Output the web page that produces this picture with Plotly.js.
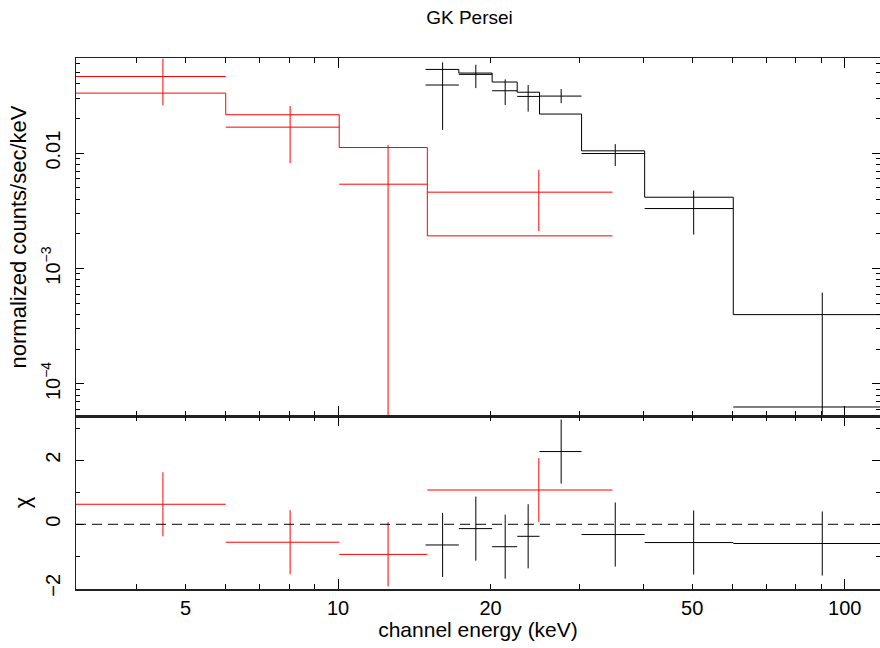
<!DOCTYPE html>
<html><head><meta charset="utf-8">
<script src="https://cdn.plot.ly/plotly-3.0.1.min.js"></script>
<style>html,body{margin:0;padding:0;background:#fff}#chart{width:880px;height:648px}</style>
</head><body><div id="chart"></div>
<script>
// ---- Red spectrum (instrument 1) ----
const redBinLo   = [3.0, 6.0, 10.05, 15.0];
const redBinHi   = [6.0, 10.05, 15.0, 34.8];
const redE       = [4.51, 8.04, 12.55, 24.9];
const redRate    = [0.0461, 0.01679, 0.00538, 0.00459];
const redRateHi  = [0.0657, 0.0256, 0.01174, 0.00716];
const redRateLo  = [0.0259, 0.00819, 1e-6, 0.00211];
const redModel   = [0.0331, 0.0215, 0.01118, 0.00192];
const redChi     = [0.625, -0.56, -0.94, 1.07];
const redChiErr  = [1, 1, 1, 1];

// ---- Black spectrum (instrument 2) ----
const blackBinLo  = [14.88, 17.31, 20.14, 22.57, 24.98, 30.24, 40.28, 60.26];
const blackBinHi  = [17.31, 20.14, 22.57, 24.98, 30.24, 40.28, 60.26, 150];
const blackE      = [16.08, 18.7, 21.37, 23.72, 27.56, 35.24, 50.33, 90.3];
const blackRate   = [0.0389, 0.0481, 0.0347, 0.0310, 0.0312, 0.00992, 0.00331, 6.32e-5];
const blackRateHi = [0.0611, 0.0583, 0.0435, 0.0389, 0.0359, 0.01197, 0.00474, 6.19e-4];
const blackRateLo = [0.0159, 0.0366, 0.0261, 0.0229, 0.0271, 0.00772, 0.00197, 1e-6];
const blackModel  = [0.0531, 0.0494, 0.0413, 0.0337, 0.0218, 0.01047, 0.00415, 3.99e-4];
const blackChi    = [-0.646, -0.135, -0.70, -0.375, 2.27, -0.32, -0.57, -0.60];
const blackChiErr = [1, 1, 1, 1, 1, 1, 1, 1];

// ---- Tick labels ----
const xTickVals  = [5, 10, 20, 50, 100];
const xTickText  = ['5', '10', '20', '50', '100'];
const xMinorVals = [3, 4, 6, 7, 8, 9, 30, 40, 60, 70, 80, 90];
const xDecadeVals = [10, 100];
const yTopTickVals = [1e-4, 1e-3, 1e-2];
const yTopTickText = ['10<sup>\u22124</sup>', '10<sup>\u22123</sup>', '0.01'];
const yTopMinorVals = [6e-5, 7e-5, 8e-5, 9e-5, 2e-4, 3e-4, 4e-4, 5e-4, 6e-4, 7e-4, 8e-4, 9e-4,
                       2e-3, 3e-3, 4e-3, 5e-3, 6e-3, 7e-3, 8e-3, 9e-3, 2e-2, 3e-2, 4e-2, 5e-2, 6e-2];
const yBotTickVals = [-2, 0, 2];
const yBotTickText = ['\u22122', '0', '2'];
const yBotMinorVals = [-1, 1, 3];

const RED = '#ff0000', BLACK = '#000000', FRAME = '#222222';
const FONT = 'Liberation Sans, Arial, Helvetica, sans-serif';
const xRange = [Math.log10(3.038), Math.log10(117.4)];

function sub(a, b) { return a.map((v, i) => v - b[i]); }

function stepTrace(lo, hi, model, color) {
  return {
    x: lo.concat([hi[hi.length - 1]]),
    y: model.concat([model[model.length - 1]]),
    mode: 'lines', line: {shape: 'hv', color: color, width: 1},
    xaxis: 'x', yaxis: 'y', hoverinfo: 'skip', showlegend: false
  };
}
function dataTrace(lo, hi, e, y, yhi, ylo, color) {
  return {
    x: e, y: y, mode: 'markers', marker: {size: 0, opacity: 0, color: color},
    error_x: {type: 'data', symmetric: false, array: sub(hi, e), arrayminus: sub(e, lo),
              width: 0, thickness: 1, color: color},
    error_y: {type: 'data', symmetric: false, array: sub(yhi, y), arrayminus: sub(y, ylo),
              width: 0, thickness: 1, color: color},
    xaxis: 'x', yaxis: 'y', showlegend: false
  };
}
function chiTrace(lo, hi, e, chi, err, color) {
  return {
    x: e, y: chi, mode: 'markers', marker: {size: 0, opacity: 0, color: color},
    error_x: {type: 'data', symmetric: false, array: sub(hi, e), arrayminus: sub(e, lo),
              width: 0, thickness: 1, color: color},
    error_y: {type: 'data', symmetric: true, array: err, width: 0, thickness: 1, color: color},
    xaxis: 'x2', yaxis: 'y2', showlegend: false
  };
}

const traces = [
  stepTrace(redBinLo, redBinHi, redModel, RED),
  dataTrace(redBinLo, redBinHi, redE, redRate, redRateHi, redRateLo, RED),
  stepTrace(blackBinLo, blackBinHi, blackModel, BLACK),
  dataTrace(blackBinLo, blackBinHi, blackE, blackRate, blackRateHi, blackRateLo, BLACK),
  chiTrace(redBinLo, redBinHi, redE, redChi, redChiErr, RED),
  chiTrace(blackBinLo, blackBinHi, blackE, blackChi, blackChiErr, BLACK),
  {x: [], y: [], xaxis: 'x3', yaxis: 'y', mode: 'markers', showlegend: false, hoverinfo: 'skip'},
  {x: [], y: [], xaxis: 'x4', yaxis: 'y2', mode: 'markers', showlegend: false, hoverinfo: 'skip'}
];

const split = 173 / 531;
const axBase = {
  showgrid: false, zeroline: false, showline: true, mirror: 'ticks',
  linecolor: FRAME, linewidth: 1.5, ticks: 'inside', tickcolor: BLACK, tickwidth: 1,
  tickfont: {family: FONT, size: 20, color: BLACK}
};
const decadeAx = {
  type: 'log', range: xRange, tickmode: 'array', tickvals: xDecadeVals,
  ticks: 'inside', ticklen: 10, tickcolor: BLACK, tickwidth: 1, showticklabels: false,
  showgrid: false, zeroline: false, showline: false, mirror: 'ticks'
};

const layout = {
  width: 880, height: 648,
  margin: {l: 76, r: 0, t: 58, b: 59},
  paper_bgcolor: '#fff', plot_bgcolor: '#fff',
  font: {family: FONT, color: BLACK},
  showlegend: false,
  title: {text: 'GK Persei', font: {family: FONT, size: 19, color: BLACK},
          xref: 'container', x: 469.5 / 880, xanchor: 'center',
          yref: 'container', y: 1 - 17.5 / 648, yanchor: 'middle'},
  xaxis: Object.assign({}, axBase, {
    type: 'log', range: xRange, domain: [0, 1], anchor: 'y',
    tickmode: 'array', tickvals: xTickVals, ticktext: xTickText, ticklen: 5,
    showticklabels: false,
    minor: {tickmode: 'array', tickvals: xMinorVals, ticks: 'inside', ticklen: 5, tickcolor: BLACK, tickwidth: 1, showgrid: false}
  }),
  yaxis: Object.assign({}, axBase, {
    type: 'log', domain: [split, 1], anchor: 'x',
    range: [Math.log10(5.28e-5), Math.log10(0.0667)],
    tickmode: 'array', tickvals: yTopTickVals, ticktext: yTopTickText, ticklen: 8, tickangle: -90,
    ticklabelstandoff: 7,
    minor: {tickmode: 'array', tickvals: yTopMinorVals, ticks: 'inside', ticklen: 4, tickcolor: BLACK, tickwidth: 1, showgrid: false},
    title: {text: 'normalized counts/sec/keV', font: {family: FONT, size: 22, color: BLACK}, standoff: 5}
  }),
  xaxis2: Object.assign({}, axBase, {
    type: 'log', range: xRange, domain: [0, 1], anchor: 'y2',
    tickmode: 'array', tickvals: xTickVals, ticktext: xTickText, ticklen: 5,
    minor: {tickmode: 'array', tickvals: xMinorVals, ticks: 'inside', ticklen: 5, tickcolor: BLACK, tickwidth: 1, showgrid: false},
    title: {text: 'channel energy (keV)', font: {family: FONT, size: 21, color: BLACK}, standoff: 4}
  }),
  yaxis2: Object.assign({}, axBase, {
    domain: [0, split], anchor: 'x2', range: [-2.02, 3.38],
    tickmode: 'array', tickvals: yBotTickVals, ticktext: yBotTickText, ticklen: 8, tickangle: -90,
    ticklabelstandoff: 7,
    minor: {tickmode: 'array', tickvals: yBotMinorVals, ticks: 'inside', ticklen: 4, tickcolor: BLACK, tickwidth: 1, showgrid: false},
    title: {text: '\u03c7', font: {family: FONT, size: 22, color: BLACK}, standoff: 5}
  }),
  xaxis3: Object.assign({}, decadeAx, {overlaying: 'x', anchor: 'y'}),
  xaxis4: Object.assign({}, decadeAx, {overlaying: 'x2', anchor: 'y2'}),
  shapes: [{type: 'line', xref: 'paper', x0: 0, x1: 1, yref: 'y2', y0: 0, y1: 0,
            line: {color: BLACK, width: 1, dash: '10px,6px'}}]
};

Plotly.newPlot('chart', traces, layout, {staticPlot: true, displayModeBar: false});
</script>
</body></html>
